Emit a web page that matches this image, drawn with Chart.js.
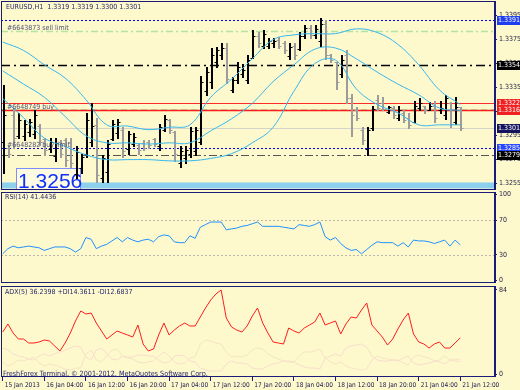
<!DOCTYPE html>
<html>
<head>
<meta charset="utf-8">
<script src="https://cdn.jsdelivr.net/npm/chart.js@4/dist/chart.umd.min.js"></script>
<style>
  body { margin: 0; background: #fdf9cd; }
  #wrap { position: relative; width: 520px; height: 390px; overflow: hidden; background: #fdf9cd; }
  canvas { position: absolute; left: 0; }
  .t { position: absolute; white-space: pre; font-family: 'Liberation Sans Narrow', 'DejaVu Sans Condensed', 'Liberation Sans', sans-serif;
       font-size: 7px; line-height: 7px; color: #26266e; }
</style>
</head>
<body>
<div id="wrap">
  <canvas id="cMain" width="520" height="191" style="top:0"></canvas>
  <canvas id="cRsi" width="520" height="93" style="top:191px"></canvas>
  <canvas id="cAdx" width="520" height="106" style="top:284px"></canvas>
  <div class="t" style="left:6px;top:4px">EURUSD,H1  1.3319 1.3319 1.3300 1.3301</div>
  <div class="t" style="left:5px;top:194px">RSI(14) 41.4436</div>
  <div class="t" style="left:5px;top:289px">ADX(5) 36.2398 +DI14.3611 -DI12.6837</div>
  <div class="t" style="left:3px;top:370px;font-size:7.2px;line-height:8px">FreshForex Terminal, © 2001-2012, MetaQuotes Software Corp.</div>
</div>
<script>
// time axis (H1 bars, label every 8 bars)
const timeLabels = ['15 Jan 2013', '16 Jan 04:00', '16 Jan 12:00', '16 Jan 20:00', '17 Jan 04:00', '17 Jan 12:00',
    '17 Jan 20:00', '18 Jan 04:00', '18 Jan 12:00', '18 Jan 20:00', '21 Jan 04:00', '21 Jan 12:00'];
const timeTickBars = [0, 8, 16, 24, 32, 40, 48, 56, 64, 72, 80, 88];

// EURUSD H1 bars
const opens = [1.3290,1.3285,1.3312,1.3295,1.3295,1.3298,1.3296,1.3303,1.3292,1.3284,
    1.3278,1.3290,1.3291,1.3290,1.3263,1.3268,1.3280,1.3290,1.3304,1.3260,
    1.3265,1.3292,1.3297,1.3300,1.3284,1.3288,1.3287,1.3289,1.3290,1.3292,
    1.3286,1.3300,1.3308,1.3298,1.3272,1.3276,1.3280,1.3282,1.3290,1.3332,
    1.3340,1.3356,1.3362,1.3368,1.3333,1.3341,1.3346,1.3341,1.3360,1.3378,
    1.3370,1.3370,1.3372,1.3375,1.3372,1.3361,1.3370,1.3367,1.3378,1.3385,
    1.3379,1.3374,1.3388,1.3362,1.3356,1.3346,1.3362,1.3326,1.3316,1.3300,
    1.3284,1.3301,1.3325,1.3322,1.3315,1.3318,1.3310,1.3314,1.3310,1.3306,
    1.3318,1.3320,1.3316,1.3320,1.3316,1.3312,1.3322,1.3306,1.3319];
const highs = [1.3337,1.3286,1.3318,1.3314,1.3308,1.3309,1.3316,1.3305,1.3293,1.3293,
    1.3293,1.3291,1.3293,1.3293,1.3286,1.3280,1.3314,1.3322,1.3310,1.3279,
    1.3291,1.3308,1.3309,1.3302,1.3299,1.3297,1.3288,1.3291,1.3291,1.3293,
    1.3305,1.3312,1.3309,1.3299,1.3286,1.3286,1.3302,1.3302,1.3345,1.3352,
    1.3368,1.3369,1.3372,1.3372,1.3344,1.3356,1.3355,1.3362,1.3383,1.3381,
    1.3383,1.3376,1.3376,1.3377,1.3374,1.3372,1.3372,1.3381,1.3387,1.3387,
    1.3387,1.3393,1.3391,1.3363,1.3356,1.3362,1.3366,1.3330,1.3319,1.3302,
    1.3302,1.3320,1.3329,1.3327,1.3320,1.3320,1.3320,1.3316,1.3314,1.3324,
    1.3326,1.3320,1.3323,1.3324,1.3324,1.3329,1.3323,1.3327,1.3319];
const lows = [1.3264,1.3277,1.3285,1.3293,1.3291,1.3295,1.3293,1.3287,1.3279,1.3281,
    1.3274,1.3277,1.3270,1.3269,1.3260,1.3264,1.3277,1.3286,1.3256,1.3256,
    1.3256,1.3291,1.3293,1.3277,1.3280,1.3286,1.3280,1.3283,1.3285,1.3286,
    1.3283,1.3299,1.3297,1.3274,1.3269,1.3272,1.3277,1.3279,1.3288,1.3329,
    1.3335,1.3352,1.3359,1.3339,1.3331,1.3339,1.3344,1.3339,1.3360,1.3369,
    1.3368,1.3368,1.3369,1.3368,1.3364,1.3359,1.3359,1.3366,1.3376,1.3376,
    1.3376,1.3370,1.3359,1.3356,1.3334,1.3344,1.3322,1.3295,1.3308,1.3288,
    1.3279,1.3300,1.3316,1.3316,1.3314,1.3310,1.3308,1.3306,1.3301,1.3306,
    1.3316,1.3314,1.3316,1.3306,1.3314,1.3309,1.3302,1.3305,1.3300];
const closes = [1.3312,1.3280,1.3293,1.3308,1.3305,1.3306,1.3312,1.3290,1.3283,1.3290,
    1.3289,1.3280,1.3275,1.3272,1.3281,1.3277,1.3308,1.3303,1.3262,1.3276,
    1.3288,1.3305,1.3306,1.3282,1.3296,1.3294,1.3283,1.3285,1.3287,1.3288,
    1.3302,1.3309,1.3300,1.3280,1.3282,1.3283,1.3299,1.3300,1.3340,1.3348,
    1.3362,1.3366,1.3368,1.3342,1.3341,1.3352,1.3350,1.3358,1.3378,1.3372,
    1.3380,1.3374,1.3374,1.3370,1.3366,1.3369,1.3362,1.3378,1.3385,1.3379,
    1.3384,1.3388,1.3362,1.3358,1.3340,1.3358,1.3326,1.3312,1.3310,1.3291,
    1.3300,1.3317,1.3318,1.3317,1.3319,1.3312,1.3316,1.3308,1.3304,1.3320,
    1.3322,1.3316,1.3320,1.3310,1.3318,1.3326,1.3305,1.3319,1.3301];

// Bollinger bands, read every 4th bar
const bandBars = [0,4,8,12,16,20,24,28,32,36,40,44,48,52,56,60,64,68,72,76,80,84,88];
const bbUpper = [1.3373,1.3366,1.3354,1.3343,1.3325,1.3304,1.3303,1.3300,1.3302,1.3304,1.3327,1.3342,
    1.3359,1.3375,1.3379,1.3380,1.3380,1.3384,1.3381,1.3371,1.3354,1.3333,1.3321];
const bbMiddle = [1.3349,1.3338,1.3327,1.3311,1.3295,1.3289,1.3289,1.3288,1.3289,1.3289,1.3299,1.3309,
    1.3322,1.3340,1.3354,1.3367,1.3368,1.3359,1.3348,1.3338,1.3329,1.3318,1.3316];
const bbLower = [1.3326,1.3310,1.3293,1.3286,1.3279,1.3275,1.3275,1.3275,1.3274,1.3274,1.3276,1.3280,
    1.3289,1.3302,1.3332,1.3355,1.3358,1.3334,1.3321,1.3314,1.3304,1.3304,1.3304];

// horizontal objects / orders
const levelPrices = [1.3391, 1.3382, 1.3354, 1.3322, 1.3317, 1.3316, 1.3301, 1.3285, 1.3279];
const orderTexts = ['#6643873 sell limit', '#6648749 buy', '#6648282 buy limit'];
const orderPrices = [1.3382, 1.3316, 1.3285];
const lowMark = 1.3256;
const zoneTop = 1.3256, zoneBottom = 1.3251;
const priceTicks = [1.3395, 1.3375, 1.3355, 1.3335, 1.3315, 1.3295, 1.3275, 1.3255];

// RSI(14)
const rsiValues = [31,37,40,38,39,40,39,38,35,37,
    39,39,39,37,33,37,50,48,37,40,
    42,46,50,45,50,47,45,47,48,45,
    51,53,52,45,44,44,52,49,62,65,
    68,68,68,59,60,61,63,64,66,68,
    63,63,63,63,62,61,60,65,64,63,
    65,68,51,47,50,43,38,35,36,31,
    36,41,45,44,44,44,40,44,39,47,
    46,46,45,43,45,47,40,47,41.44];
const rsiTicks = [100, 70, 30, 0];
const rsiLevels = [70, 30];

// ADX(5)
const adxValues = [42,50,41,35,35,31,31,32,34,33,
    28,23,31,41,53,63,60,61,51,43,
    35,39,43,41,39,37,49,30,23,25,
    39,51,39,44,48,51,48,48,57,66,
    74,80,84,56,47,44,42,48,58,66,
    51,41,32,31,30,46,43,41,46,49,
    52,61,49,51,53,40,50,57,56,64,
    71,49,43,37,29,35,45,54,61,40,
    32,30,26,30,32,26,26,31,36.24];
const plusDI = [12,8,10,14,13,15,17,11,8,10,
    9,7,5,4,6,6,20,24,14,12,
    18,24,25,18,16,15,12,11,12,13,
    18,22,18,12,10,11,16,17,30,34,
    33,31,30,22,17,18,17,19,24,26,
    25,20,17,15,13,13,12,18,22,22,
    23,25,16,12,10,12,8,6,5,4,
    5,14,18,16,15,14,14,11,9,17,
    19,17,16,13,14,18,14,15,14.36];
const minusDI = [26,24,20,18,17,15,14,18,20,18,
    20,22,24,26,28,27,17,14,24,26,
    20,15,14,18,17,17,19,19,18,18,
    14,11,12,18,19,18,13,12,6,4,
    3,3,3,10,13,11,11,10,6,5,
    5,8,10,11,13,12,12,9,7,6,
    6,5,16,18,20,18,26,28,29,30,
    27,18,14,13,13,14,13,16,18,11,
    9,10,11,13,12,10,14,13,12.68];
const adxTicks = [84, 0];

const XMIN = -0.33, XMAX = 94.48;
const NAVY = '#1c1c78';
const FONT = "'Liberation Sans Narrow','DejaVu Sans Condensed','Liberation Sans',sans-serif";

function xAxis(show) {
    return {
        type: 'linear', min: XMIN, max: XMAX, display: show,
        grid: { drawOnChartArea: false, drawTicks: true, tickLength: 4, tickColor: NAVY },
        border: { display: false },
        afterBuildTicks: s => { s.ticks = timeTickBars.map(v => ({ value: v })); },
        afterFit: s => { s.height = show ? 13 : 0; s.paddingLeft = 0; s.paddingRight = 0; },
        ticks: {
            autoSkip: false, maxRotation: 0, minRotation: 0, align: 'start', labelOffset: 2, padding: 0,
            color: '#202050', font: { family: FONT, size: 6.5 },
            callback: v => timeLabels[timeTickBars.indexOf(v)]
        }
    };
}

function yAxis(min, max, tickVals, fmt) {
    return {
        position: 'right', min: min, max: max,
        grid: { drawOnChartArea: false, drawTicks: true, tickLength: 3, tickColor: NAVY },
        border: { display: false },
        afterBuildTicks: s => { s.ticks = tickVals.map(v => ({ value: v })); },
        afterFit: s => { s.width = 26; s.paddingTop = 0; s.paddingBottom = 0; },
        ticks: { autoSkip: false, padding: 2, color: '#1c1c40', font: { family: FONT, size: 7 }, callback: fmt }
    };
}

// border round each sub window, heavier on the price-scale side
const frame = {
    id: 'frame',
    afterDraw(chart) {
        const { ctx, chartArea: a } = chart;
        ctx.save();
        ctx.strokeStyle = NAVY;
        ctx.lineWidth = 1;
        ctx.strokeRect(a.left + 0.5, a.top + 0.5, a.right - a.left, a.bottom - a.top - 1);
        ctx.beginPath();
        ctx.moveTo(a.right + 1.5, a.top);
        ctx.lineTo(a.right + 1.5, a.bottom);
        ctx.stroke();
        ctx.restore();
    }
};

const levelStyles = [
    { color: '#0000ff', dash: [2, 2], width: 1, box: '#1f3ef2' },
    { color: '#b4e4a4', dash: [7, 3, 2, 3], width: 1.5 },
    { color: '#000000', dash: [9, 4, 2, 4], width: 1.5, box: '#000000' },
    { color: '#ff2a2a', dash: [], width: 1, box: '#f02020' },
    { color: '#b4e4a4', dash: [6, 4], width: 1 },
    { color: '#ff1a1a', dash: [], width: 1.5, box: '#f02020' },
    { color: '#d4d4cc', dash: [], width: 1, box: '#14145e' },
    { color: '#0000ff', dash: [2, 2], width: 1, box: '#2646ff' },
    { color: '#555555', dash: [8, 3, 2, 3], width: 1, box: '#000000' }
];

const mainDraw = {
    id: 'mainDraw',
    beforeDatasetsDraw(chart) {
        const { ctx, chartArea: a, scales: { x, y } } = chart;
        ctx.save();
        // blue zone at the low
        const zt = y.getPixelForValue(zoneTop), zb = y.getPixelForValue(zoneBottom);
        ctx.fillStyle = '#8dd0ee';
        ctx.fillRect(a.left, zt, a.right - a.left, zb - zt);

        levelPrices.forEach((p, i) => {
            const st = levelStyles[i];
            const py = Math.round(y.getPixelForValue(p)) + 0.5;
            ctx.strokeStyle = st.color;
            ctx.lineWidth = st.width;
            ctx.setLineDash(st.dash);
            ctx.beginPath();
            ctx.moveTo(a.left, py);
            ctx.lineTo(a.right, py);
            ctx.stroke();
        });
        ctx.setLineDash([]);

        // big low label (text object)
        ctx.save();
        ctx.beginPath();
        ctx.rect(a.left, a.top, a.right - a.left, a.bottom - a.top);
        ctx.clip();
        const bx = Math.round(x.getPixelForValue(2.6)) + 0.5;
        const bx2 = Math.round(x.getPixelForValue(14.9)) + 0.5;
        const by = Math.round(y.getPixelForValue(1.3268)) + 0.5;
        ctx.fillStyle = '#fdfbe2';
        ctx.fillRect(bx, by, bx2 - bx, a.bottom - by);
        ctx.strokeStyle = '#7f8cff';
        ctx.lineWidth = 1;
        ctx.strokeRect(bx, by, bx2 - bx, a.bottom - by + 4);
        ctx.font = '21px "Liberation Sans", Arial, sans-serif';
        ctx.fillStyle = '#1030ff';
        ctx.fillText(lowMark.toFixed(4), x.getPixelForValue(2.95), y.getPixelForValue(1.3251));
        ctx.restore();

        // OHLC bars
        ctx.lineWidth = 1;
        for (let i = 0; i < opens.length; i++) {
            const px = Math.round(x.getPixelForValue(i)) + 0.5;
            const up = closes[i] >= opens[i];
            ctx.strokeStyle = up ? '#000000' : '#9c9c9c';
            const yh = Math.round(y.getPixelForValue(highs[i]));
            const yl = Math.round(y.getPixelForValue(lows[i]));
            const yo = Math.round(y.getPixelForValue(opens[i])) + 0.5;
            const yc = Math.round(y.getPixelForValue(closes[i])) + 0.5;
            ctx.beginPath();
            ctx.moveTo(px, yh);
            ctx.lineTo(px, yl + 1);
            ctx.moveTo(px + 1, yh);
            ctx.lineTo(px + 1, yl + 1);
            ctx.moveTo(px - 2, yo);
            ctx.lineTo(px, yo);
            ctx.moveTo(px + 1, yc);
            ctx.lineTo(px + 3, yc);
            ctx.stroke();
        }
        ctx.restore();
    },
    afterDraw(chart) {
        const { ctx, chartArea: a, scales: { y } } = chart;
        ctx.save();
        // order descriptions
        ctx.font = '7px ' + FONT;
        ctx.fillStyle = '#505078';
        ctx.textBaseline = 'alphabetic';
        orderTexts.forEach((t, i) => {
            ctx.fillText(t, a.left + 6, Math.round(y.getPixelForValue(orderPrices[i])) - 1);
        });

        // price boxes on the right scale
        ctx.textBaseline = 'middle';
        levelPrices.forEach((p, i) => {
            const st = levelStyles[i];
            if (!st.box) return;
            const py = Math.round(y.getPixelForValue(p));
            ctx.fillStyle = st.box;
            ctx.fillRect(a.right + 3, py - 4, 23, 9);
            ctx.fillStyle = '#ffffff';
            ctx.fillText(p.toFixed(4), a.right + 4, py + 0.5);
        });
        ctx.restore();
    }
};

const rsiDraw = {
    id: 'rsiDraw',
    beforeDatasetsDraw(chart) {
        const { ctx, chartArea: a, scales: { y } } = chart;
        ctx.save();
        ctx.strokeStyle = '#b8b8b0';
        ctx.lineWidth = 1;
        ctx.setLineDash([2, 2]);
        rsiLevels.forEach(v => {
            const py = Math.round(y.getPixelForValue(v)) + 0.5;
            ctx.beginPath();
            ctx.moveTo(a.left, py);
            ctx.lineTo(a.right, py);
            ctx.stroke();
        });
        ctx.restore();
    }
};

const common = {
    responsive: false,
    devicePixelRatio: 1,
    animation: false,
    events: [],
    plugins: { legend: { display: false }, tooltip: { enabled: false } },
    elements: { point: { radius: 0 } }
};

const series = arr => arr.map((v, i) => ({ x: i, y: v }));
const bandSeries = arr => arr.map((v, k) => ({ x: bandBars[k], y: v }));

new Chart(document.getElementById('cMain'), {
    type: 'line',
    data: {
        datasets: [
            { data: bandSeries(bbUpper), borderColor: '#36b6ee', borderWidth: 1, tension: 0.4 },
            { data: bandSeries(bbMiddle), borderColor: '#36b6ee', borderWidth: 1, tension: 0.4 },
            { data: bandSeries(bbLower), borderColor: '#36b6ee', borderWidth: 1, tension: 0.4 }
        ]
    },
    options: Object.assign({}, common, {
        layout: { padding: { left: 1, right: 0, top: 1, bottom: 1 } },
        scales: {
            x: xAxis(false),
            y: yAxis(1.32497, 1.34072, priceTicks, v => v.toFixed(4))
        }
    }),
    plugins: [mainDraw, frame]
});

new Chart(document.getElementById('cRsi'), {
    type: 'line',
    data: {
        datasets: [
            { data: series(rsiValues), borderColor: '#1e90ff', borderWidth: 1, tension: 0 }
        ]
    },
    options: Object.assign({}, common, {
        layout: { padding: { left: 1, right: 0, top: 1, bottom: 1 } },
        scales: {
            x: xAxis(false),
            y: yAxis(-2.9, 102.9, rsiTicks, v => String(v))
        }
    }),
    plugins: [rsiDraw, frame]
});

new Chart(document.getElementById('cAdx'), {
    type: 'line',
    data: {
        datasets: [
            { data: series(adxValues), borderColor: '#ff1c1c', borderWidth: 1, tension: 0 },
            { data: series(plusDI), borderColor: '#f6e2c6', borderWidth: 1, tension: 0 },
            { data: series(minusDI), borderColor: '#f8dccc', borderWidth: 1, tension: 0 }
        ]
    },
    options: Object.assign({}, common, {
        layout: { padding: { left: 1, right: 0, top: 2, bottom: 0 } },
        scales: {
            x: xAxis(true),
            y: yAxis(-3, 88, adxTicks, v => String(v))
        }
    }),
    plugins: [frame]
});
</script>
</body>
</html>
